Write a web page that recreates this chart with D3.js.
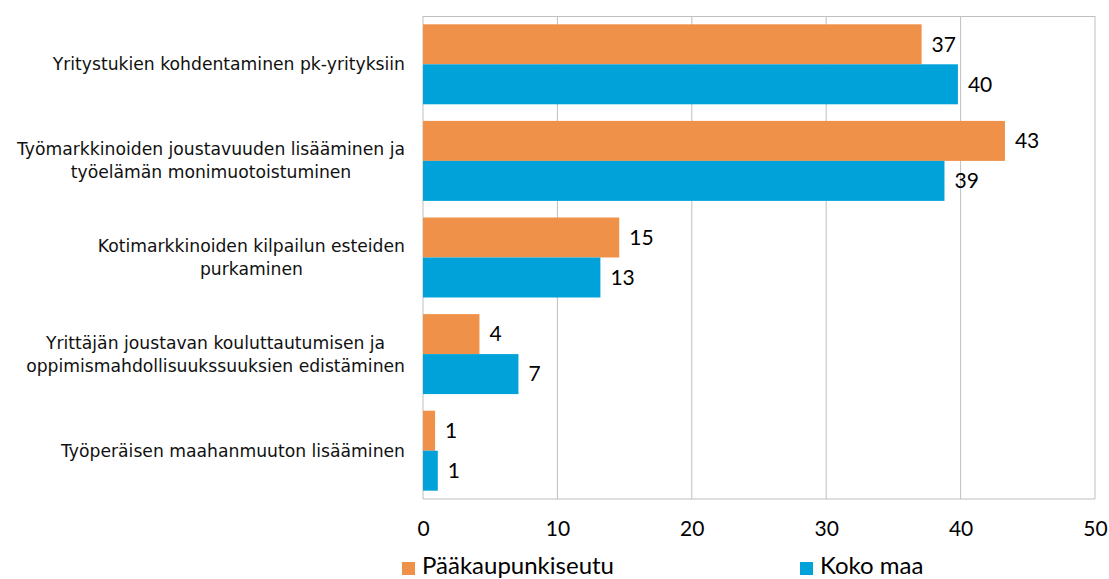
<!DOCTYPE html>
<html>
<head>
<meta charset="utf-8">
<script src="https://cdn.jsdelivr.net/npm/d3@7"></script>
<style>
  body { margin: 0; background: #fff; }
  svg { display: block; }
</style>
</head>
<body>
<div id="chart"></div>
<script>
const categories = [
  ["Yritystukien kohdentaminen pk-yrityksiin"],
  ["Työmarkkinoiden joustavuuden lisääminen ja", "työelämän monimuotoistuminen"],
  ["Kotimarkkinoiden kilpailun esteiden", "purkaminen"],
  ["Yrittäjän joustavan kouluttautumisen ja", "oppimismahdollisuukssuuksien edistäminen"],
  ["Työperäisen maahanmuuton lisääminen"]
];
const seriesNames = ["Pääkaupunkiseutu", "Koko maa"];
const paakaupunkiseutu = [37.1, 43.3, 14.6, 4.2, 0.9];
const kokoMaa = [39.8, 38.8, 13.2, 7.1, 1.1];
const ticks = [0, 10, 20, 30, 40, 50];
const colors = ["#F0914A", "#00A2D9"];

const width = 1109, height = 579;
const margin = { top: 16, right: 14, bottom: 80, left: 423 };
const plotW = width - margin.left - margin.right;
const plotH = height - margin.top - margin.bottom;

const svg = d3.select("#chart").append("svg")
  .attr("width", width)
  .attr("height", height);

const g = svg.append("g")
  .attr("transform", `translate(${margin.left},${margin.top})`);

const x = d3.scaleLinear().domain([0, 50]).range([0, plotW]);
const y = d3.scaleBand().domain(d3.range(categories.length)).range([0, plotH]).paddingInner(0.172).paddingOuter(0.086);
const sub = d3.scaleBand().domain([0, 1]).range([0, y.bandwidth()]);

// grid
g.selectAll("line.grid")
  .data(ticks)
  .enter()
  .append("line")
  .attr("x1", d => x(d))
  .attr("x2", d => x(d))
  .attr("y1", 0)
  .attr("y2", plotH)
  .attr("stroke", "#BFBFBF")
  .attr("stroke-width", 1);

g.append("line").attr("x1", 0).attr("x2", plotW).attr("y1", 0.5).attr("y2", 0.5).attr("stroke", "#BFBFBF");
g.append("line").attr("x1", 0).attr("x2", plotW).attr("y1", plotH).attr("y2", plotH).attr("stroke", "#BFBFBF");

const data = [paakaupunkiseutu, kokoMaa];

data.forEach((vals, s) => {
  g.selectAll(null)
    .data(vals)
    .enter()
    .append("rect")
    .attr("x", x(0))
    .attr("y", (d, i) => y(i) + sub(s))
    .attr("width", d => x(d) - x(0))
    .attr("height", sub.bandwidth())
    .attr("fill", colors[s]);

  g.selectAll(null)
    .data(vals)
    .enter()
    .append("text")
    .attr("x", d => x(d) + 10)
    .attr("y", (d, i) => y(i) + sub(s) + sub.bandwidth() / 2)
    .attr("dy", "0.35em")
    .attr("font-family", "Lato, 'Open Sans', sans-serif")
    .attr("font-size", 21)
    .attr("fill", "#000")
    .text(d => Math.round(d));
});

// x axis labels
const xAxis = g.append("g")
  .attr("transform", `translate(0,${plotH})`)
  .call(d3.axisBottom(x).tickValues(ticks).tickSize(0).tickPadding(22));
xAxis.select(".domain").remove();
xAxis.selectAll("text")
  .attr("font-family", "Lato, 'Open Sans', sans-serif")
  .attr("font-size", 21)
  .attr("fill", "#000");

// category labels
const labelRight = 405 - margin.left;
categories.forEach((lines, i) => {
  const t = g.append("text")
    .attr("font-family", "'DejaVu Sans', sans-serif")
    .attr("font-size", 17.2)
    .attr("fill", "#111");
  const lh = 23;
  const cy = y(i) + y.bandwidth() / 2;
  lines.forEach((ln, k) => {
    t.append("tspan")
      .attr("y", cy + (k - (lines.length - 1) / 2) * lh)
      .attr("dy", "0.35em")
      .text(ln);
  });
  // centre lines within the widest line, right aligned at labelRight
  const tsp = t.selectAll("tspan").nodes();
  const widths = tsp.map(n => n.getComputedTextLength());
  const maxW = d3.max(widths);
  tsp.forEach(n => {
    d3.select(n).attr("x", labelRight - maxW / 2).attr("text-anchor", "middle");
  });
});

// legend
const legend = svg.append("g");
const legX = [402, 800];
seriesNames.forEach((name, s) => {
  legend.append("rect")
    .attr("x", legX[s])
    .attr("y", 562)
    .attr("width", 13)
    .attr("height", 13)
    .attr("fill", colors[s]);
  legend.append("text")
    .attr("x", legX[s] + 20)
    .attr("y", 574)
    .attr("font-family", "Lato, 'Open Sans', sans-serif")
    .attr("font-size", 24)
    .attr("fill", "#000")
    .text(name);
});
</script>
</body>
</html>
